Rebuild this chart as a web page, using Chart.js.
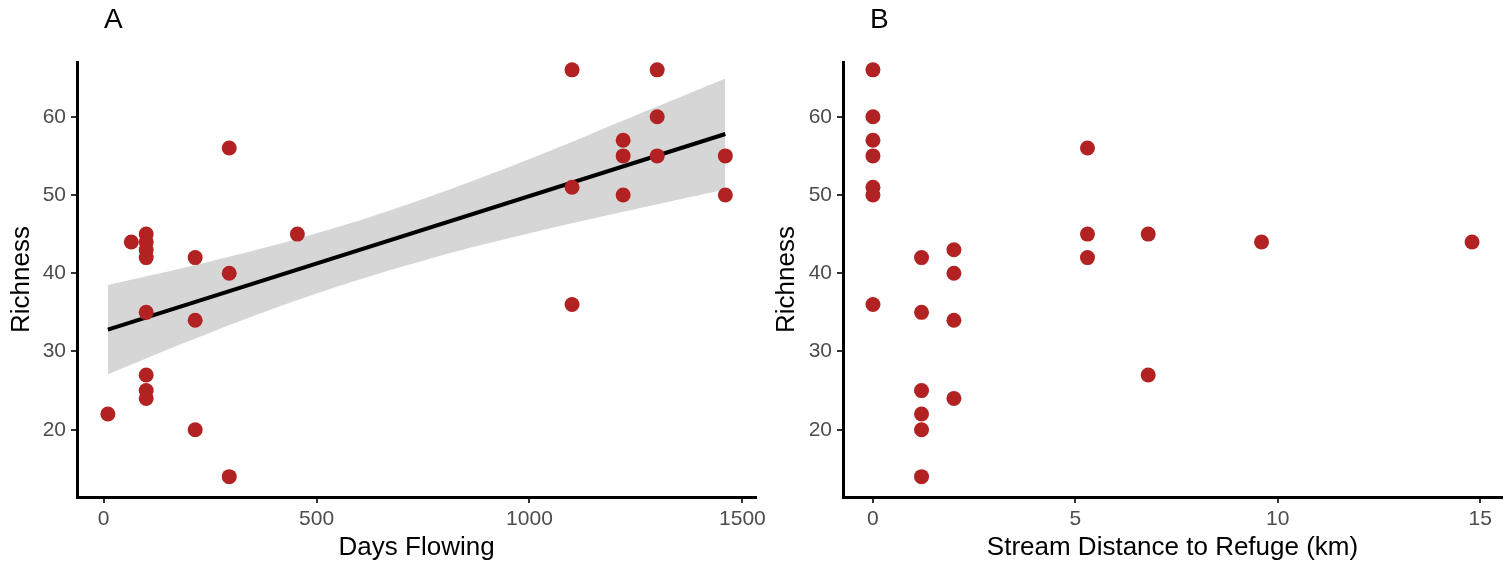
<!DOCTYPE html>
<html>
<head>
<meta charset="utf-8">
<script src="https://cdn.jsdelivr.net/npm/chart.js@4.4.0/dist/chart.umd.min.js"></script>
<style>
  body { margin: 0; background: #fff; }
  #wrap { position: relative; width: 1504px; height: 565px; overflow: hidden; }
  canvas { position: absolute; top: 0; }
</style>
</head>
<body>
<div id="wrap">
  <canvas id="chartA" width="770" height="565" style="left:0px"></canvas>
  <canvas id="chartB" width="744" height="565" style="left:760px"></canvas>
</div>
<script>
// Panel A: days flowing vs richness
const daysFlowing = [10, 65, 100, 100, 100, 100, 100, 100, 100, 100, 215, 215, 215, 295, 295, 295, 455,
                     1100, 1100, 1100, 1220, 1220, 1220, 1300, 1300, 1300, 1460, 1460];
const richnessA   = [22, 44, 45, 44, 43, 42, 35, 27, 25, 24, 42, 34, 20, 56, 40, 14, 45,
                     66, 51, 36, 57, 55, 50, 66, 60, 55, 55, 50];

// fitted line and its confidence band
const fitDays     = [10, 1460];
const fitRichness = [32.8, 57.8];
const bandDays    = [10, 250, 500, 750, 1000, 1250, 1460];
const bandUpper   = [38.5, 41.5, 45.1, 49.5, 54.6, 60.2, 64.9];
const bandLower   = [27.1, 32.4, 37.4, 41.6, 45.1, 48.2, 50.7];

// Panel B: stream distance to refuge vs richness
const distRefuge = [0, 0, 0, 0, 0, 0, 0, 1.2, 1.2, 1.2, 1.2, 1.2, 1.2, 2, 2, 2, 2, 5.3, 5.3, 5.3, 6.8, 6.8, 9.6, 14.8];
const richnessB  = [66, 60, 57, 55, 51, 50, 36, 42, 35, 25, 22, 20, 14, 43, 40, 34, 24, 56, 45, 42, 45, 27, 44, 44];

// tick labels
const xTicksA = [0, 500, 1000, 1500];
const xTicksB = [0, 5, 10, 15];
const yTicks  = [20, 30, 40, 50, 60];

const FONT = '"Liberation Sans", Arial, sans-serif';
const pointColor = '#b22222';

function pairs(xs, ys) {
    return xs.map((x, i) => ({ x: x, y: ys[i] }));
}

// draws the panel letter (A / B)
const panelLabel = {
    id: 'panelLabel',
    afterDraw(chart, args, opts) {
        const ctx = chart.ctx;
        ctx.save();
        ctx.font = '28px ' + FONT;
        ctx.fillStyle = '#000';
        ctx.textBaseline = 'middle';
        ctx.fillText(opts.text, opts.x, opts.y);
        ctx.restore();
    }
};

function axisX(min, max, ticks, title, height) {
    return {
        type: 'linear',
        min: min,
        max: max,
        afterBuildTicks: (s) => { s.ticks = ticks.map(v => ({ value: v })); },
        afterFit: (s) => { s.height = height; },
        grid: { display: true, drawOnChartArea: false, drawTicks: true, tickLength: 6, color: '#333', lineWidth: 2 },
        border: { display: true, color: '#000', width: 3 },
        ticks: {
            color: '#4d4d4d', font: { family: FONT, size: 21 }, padding: 4, maxRotation: 0, autoSkip: false,
            callback: (v) => String(v)
        },
        title: { display: true, text: title, color: '#000', font: { family: FONT, size: 26 }, padding: 0 }
    };
}

function axisY(width) {
    return {
        type: 'linear',
        min: 11.4,
        max: 67,
        afterBuildTicks: (s) => { s.ticks = yTicks.map(v => ({ value: v })); },
        afterFit: (s) => { s.width = width; },
        grid: { display: true, drawOnChartArea: false, drawTicks: true, tickLength: 6, color: '#333', lineWidth: 2 },
        border: { display: true, color: '#000', width: 3 },
        ticks: { color: '#4d4d4d', font: { family: FONT, size: 21 }, padding: 5, autoSkip: false },
        title: { display: true, text: 'Richness', color: '#000', font: { family: FONT, size: 26 }, padding: 0 }
    };
}

const common = {
    responsive: false,
    animation: false,
    devicePixelRatio: 1,
    events: [],
};

new Chart(document.getElementById('chartA'), {
    type: 'scatter',
    data: {
        datasets: [
            {
                data: pairs(daysFlowing, richnessA),
                backgroundColor: pointColor,
                borderWidth: 0,
                pointRadius: 7.5,
                clip: false
            },
            {
                data: pairs(fitDays, fitRichness),
                showLine: true,
                borderColor: '#000',
                borderWidth: 4,
                pointRadius: 0
            },
            {
                data: pairs(bandDays, bandUpper),
                showLine: true,
                tension: 0.4,
                borderWidth: 0,
                pointRadius: 0,
                backgroundColor: 'rgba(153,153,153,0.4)',
                fill: '+1'
            },
            {
                data: pairs(bandDays, bandLower),
                showLine: true,
                tension: 0.4,
                borderWidth: 0,
                pointRadius: 0
            }
        ]
    },
    options: {
        ...common,
        layout: { autoPadding: false, padding: { left: 6, right: 13, top: 62, bottom: 2 } },
        scales: {
            x: axisX(-62.5, 1532.5, xTicksA, 'Days Flowing', 66),
            y: axisY(71)
        },
        plugins: {
            legend: { display: false },
            tooltip: { enabled: false },
            panelLabel: { text: 'A', x: 104, y: 20 }
        }
    },
    plugins: [panelLabel]
});

new Chart(document.getElementById('chartB'), {
    type: 'scatter',
    data: {
        datasets: [
            {
                data: pairs(distRefuge, richnessB),
                backgroundColor: pointColor,
                borderWidth: 0,
                pointRadius: 7.5,
                clip: false
            }
        ]
    },
    options: {
        ...common,
        layout: { autoPadding: false, padding: { left: 11, right: 2, top: 62, bottom: 2 } },
        scales: {
            x: axisX(-0.74, 15.54, xTicksB, 'Stream Distance to Refuge (km)', 66),
            y: axisY(72)
        },
        plugins: {
            legend: { display: false },
            tooltip: { enabled: false },
            panelLabel: { text: 'B', x: 110, y: 20 }
        }
    },
    plugins: [panelLabel]
});
</script>
</body>
</html>
